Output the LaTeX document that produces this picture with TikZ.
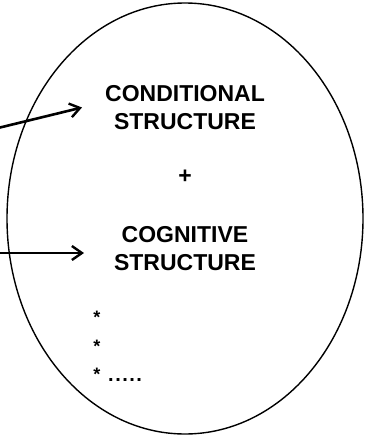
\documentclass[tikz,border=0pt]{standalone}
\usepackage{fontspec}
\setmainfont{Liberation Sans}
\usetikzlibrary{arrows.meta,shapes.geometric}
\begin{document}
\begin{tikzpicture}[x=1pt,y=-1pt,
  lbl/.style={font=\bfseries\fontsize{23}{28}\selectfont, align=center, inner sep=0pt},
  conn/.style={line width=2.6pt, -{Straight Barb[length=10pt,width=14pt,line width=2.4pt]}},
  starlbl/.style={font=\bfseries\fontsize{18}{18}\selectfont, inner sep=0pt}]
\useasboundingbox (0,0) rectangle (364,436);
\node[draw, line width=1.4pt, ellipse, minimum width=356pt, minimum height=431pt, inner sep=0pt] (ell) at (185,218.5) {};
\node[lbl] (cond) at (185,108) {CONDITIONAL\\STRUCTURE};
\node[lbl] (plus) at (185,177) {+};
\node[lbl] (cog) at (185,249) {COGNITIVE\\STRUCTURE};
\node[starlbl] (s1) at (97,317) {*};
\node[starlbl] (s2) at (97,346) {*};
\node[starlbl] (s3) at (97,374) {*};
\node[starlbl, anchor=west, font=\bfseries\fontsize{20}{20}\selectfont] (dots) at (108,380) {.\kern1.5pt.\kern1.5pt.\kern1.5pt.\kern1.5pt.};
\coordinate (a1) at (-2,128);
\coordinate (a2) at (-2,253);
\coordinate (t1) at (82,107.5);
\coordinate (t2) at (84,253);
\draw[conn] (a1) -- (t1);
\draw[conn] (a2) -- (t2);
\end{tikzpicture}
\end{document}
